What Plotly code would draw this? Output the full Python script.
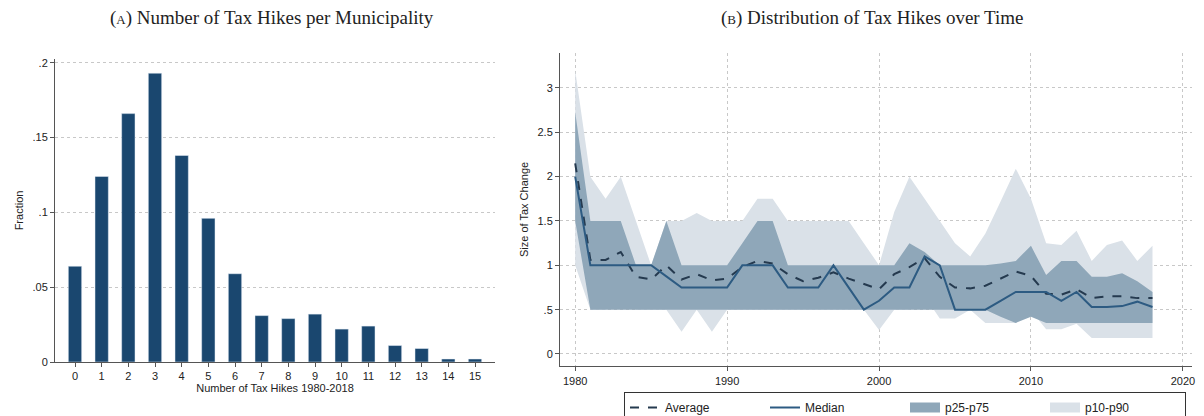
import plotly.graph_objects as go

hikes = list(range(16))
fraction = [.064, .124, .166, .193, .138, .096, .059, .031, .029, .032, .022, .024, .011, .009, .002, .002]

years = list(range(1980, 2019))
median = [2.0, 1.0, 1.0, 1.0, 1.0, 1.0, .875, .75, .75, .75, .75, 1.0, 1.0, 1.0, .75, .75, .75, 1.0, .75, .5,
          .6, .75, .75, 1.1, 1.0, .5, .5, .5, .6, .7, .7, .7, .6, .7, .53, .53, .54, .59, .53]
average = [2.15, 1.06, 1.06, 1.15, .87, .84, 1.0, .84, .9, .83, .85, .98, 1.05, 1.02, .9, .82, .86, .92, .85, .79,
           .73, .9, .98, 1.08, .87, .75, .74, .77, .85, .93, .88, .68, .67, .73, .63, .65, .65, .63, .63]
p75 = [2.73, 1.5, 1.5, 1.5, 1.0, 1.0, 1.5, 1.0, 1.0, 1.0, 1.0, 1.25, 1.5, 1.5, 1.0, 1.0, 1.0, 1.0, 1.0, 1.0,
       1.0, 1.0, 1.25, 1.15, 1.0, 1.0, 1.0, 1.0, 1.02, 1.05, 1.22, .89, 1.05, 1.05, .87, .87, .91, .82, .7]
p25 = [1.5, .5, .5, .5, .5, .5, .5, .5, .5, .5, .5, .5, .5, .5, .5, .5, .5, .5, .5, .5,
       .5, .5, .5, .5, .5, .5, .5, .5, .42, .35, .42, .35, .35, .35, .35, .35, .35, .35, .35]
p90 = [3.2, 2.0, 1.75, 2.0, 1.5, 1.0, 1.5, 1.5, 1.59, 1.5, 1.5, 1.5, 1.75, 1.75, 1.5, 1.5, 1.5, 1.5, 1.5, 1.25,
       1.0, 1.6, 2.0, 1.75, 1.5, 1.25, 1.1, 1.36, 1.72, 2.09, 1.75, 1.25, 1.23, 1.39, 1.05, 1.23, 1.28, 1.05, 1.22]
p10 = [1.0, .5, .5, .75, .5, .5, .5, .25, .5, .25, .5, .5, .5, .5, .5, .5, .5, .5, .5, .5,
       .27, .5, .5, .65, .4, .4, .5, .35, .35, .35, .49, .28, .28, .34, .18, .18, .18, .18, .18]

LIGHT = "#dae1e8"
DARK = "#8fa7b9"
BAR = "#1a476f"
LINE = "#2d5b82"
AVG = "#253a4f"

fig = go.Figure()
fig.add_trace(go.Bar(x=hikes, y=fraction, marker_color=BAR, width=0.5, showlegend=False,
                     xaxis="x", yaxis="y"))

fig.add_trace(go.Scatter(x=years, y=p10, mode="lines", line=dict(width=0, color=LIGHT),
                         showlegend=False, xaxis="x2", yaxis="y2", hoverinfo="skip"))
fig.add_trace(go.Scatter(x=years, y=p90, mode="lines", line=dict(width=0, color=LIGHT), fill="tonexty",
                         fillcolor=LIGHT, showlegend=False, xaxis="x2", yaxis="y2"))
fig.add_trace(go.Scatter(x=years, y=p25, mode="lines", line=dict(width=0, color=DARK),
                         showlegend=False, xaxis="x2", yaxis="y2", hoverinfo="skip"))
fig.add_trace(go.Scatter(x=years, y=p75, mode="lines", line=dict(width=0, color=DARK), fill="tonexty",
                         fillcolor=DARK, showlegend=False, xaxis="x2", yaxis="y2"))
fig.add_trace(go.Scatter(x=years, y=average, mode="lines", name="Average",
                         line=dict(color=AVG, width=2, dash="dash"), xaxis="x2", yaxis="y2"))
fig.add_trace(go.Scatter(x=years, y=median, mode="lines", name="Median",
                         line=dict(color=LINE, width=2), xaxis="x2", yaxis="y2"))
fig.add_trace(go.Scatter(x=[None], y=[None], mode="lines", name="p25-p75",
                         line=dict(color=DARK, width=12), xaxis="x2", yaxis="y2"))
fig.add_trace(go.Scatter(x=[None], y=[None], mode="lines", name="p10-p90",
                         line=dict(color=LIGHT, width=12), xaxis="x2", yaxis="y2"))

grid = dict(showgrid=True, gridcolor="#c8c8c8", griddash="dot", gridwidth=1)
axfont = dict(family="Liberation Sans, Arial", size=11, color="#222")
common = dict(showline=True, linecolor="#555", ticks="outside", ticklen=4, tickcolor="#555",
              zeroline=False, automargin=False)
W, H = 1204, 416

fig.update_layout(
    width=W, height=H,
    paper_bgcolor="white", plot_bgcolor="white",
    margin=dict(l=0, r=0, t=0, b=0, autoexpand=False),
    font=axfont,
    xaxis=dict(domain=[47/W, 487/W], range=[-0.75, 15.75], tickvals=hikes,
               showgrid=False, anchor="y", **common,
               title=dict(text="Number of Tax Hikes 1980-2018", standoff=0, font=axfont)),
    yaxis=dict(domain=[(H-354)/H, (H-51)/H], range=[0, 0.2025],
               tickvals=[0, .05, .1, .15, .2], ticktext=["0", ".05", ".1", ".15", ".2"],
               anchor="x", **grid, **common,
               title=dict(text="Fraction", standoff=6, font=axfont)),
    xaxis2=dict(domain=[552/W, 1184/W], range=[1979, 2020.6], tickvals=[1980, 1990, 2000, 2010, 2020],
                anchor="y2", **grid, **common),
    yaxis2=dict(domain=[(H-358.4)/H, (H-44.5)/H], range=[-0.14, 3.4],
                tickvals=[0, .5, 1, 1.5, 2, 2.5, 3], ticktext=["0", ".5", "1", "1.5", "2", "2.5", "3"],
                anchor="x2", **grid, **common,
                title=dict(text="Size of Tax Change", standoff=6, font=axfont)),
    legend=dict(orientation="h", x=1178/W, xanchor="right", y=1/H, yanchor="bottom",
                bordercolor="#333", borderwidth=1, font=dict(size=12),
                entrywidth=95, traceorder="normal"),
    showlegend=True,
    annotations=[
        dict(text="(<span style='font-size:13px'>A</span>) Number of Tax Hikes per Municipality",
             x=264/W, y=1-10/H, xref="paper", yref="paper", showarrow=False,
             xanchor="center", yanchor="middle",
             font=dict(family="Liberation Serif, DejaVu Serif", size=19, color="#222")),
        dict(text="(<span style='font-size:13px'>B</span>) Distribution of Tax Hikes over Time",
             x=864/W, y=1-10/H, xref="paper", yref="paper", showarrow=False,
             xanchor="center", yanchor="middle",
             font=dict(family="Liberation Serif, DejaVu Serif", size=19, color="#222")),
    ],
)
fig.write_html("out.html")
